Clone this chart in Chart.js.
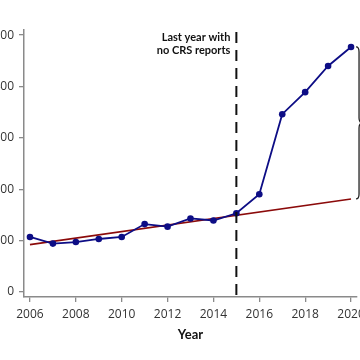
<!DOCTYPE html>
<html>
<head>
<meta charset="utf-8">
<script src="https://cdn.jsdelivr.net/npm/chart.js@4"></script>
<style>
  html, body { margin: 0; padding: 0; background: #fff; overflow: hidden; }
  body { width: 360px; height: 360px; position: relative; }
  #wrap { position: absolute; left: -40px; top: 0; width: 440px; height: 360px; }
</style>
</head>
<body>
<div id="wrap"><canvas id="grafico"></canvas></div>
<script>
const anos = [2006, 2007, 2008, 2009, 2010, 2011, 2012, 2013, 2014, 2015, 2016, 2017, 2018, 2019, 2020];
const valores = [107, 94, 97, 103, 107, 132, 127, 143, 139, 153, 190, 346, 389, 440, 477];
const tendenciaAnos = [2006, 2020];
const tendenciaValores = [92, 181];
const ticksX = [2006, 2008, 2010, 2012, 2014, 2016, 2018, 2020];
const ticksY = [0, 100, 200, 300, 400, 500];
const anoCorte = 2015;
const textoCorte = ["Last year with", "no CRS reports"];

const corAzul = "#0d0d85";
const corVermelha = "#8b0a0a";
const corEixo = "#8a8a8a";

// linha tracejada, texto e chave
const anotacoes = {
  id: "anotacoes",
  afterDatasetsDraw(chart) {
    const { ctx, chartArea, scales: { x, y } } = chart;
    const xc = x.getPixelForValue(anoCorte);

    ctx.save();
    ctx.strokeStyle = "#111";
    ctx.lineWidth = 2;
    ctx.setLineDash([11, 7]);
    ctx.beginPath();
    ctx.moveTo(xc, chartArea.top + 2);
    ctx.lineTo(xc, chartArea.bottom);
    ctx.stroke();
    ctx.setLineDash([]);

    ctx.fillStyle = "#111";
    ctx.font = "bold 11px Lato";
    ctx.textAlign = "right";
    ctx.textBaseline = "middle";
    ctx.fillText(textoCorte[0], xc - 6, 37);
    ctx.fillText(textoCorte[1], xc - 6, 50);

    // chave entre o último ponto e a linha de tendência
    const ultimo = anos.length - 1;
    const yTop = y.getPixelForValue(valores[ultimo]);
    const yBot = y.getPixelForValue(tendenciaValores[1]);
    const xb = x.getPixelForValue(anos[ultimo]) + 5;
    const mid = (yTop + yBot) / 2;
    ctx.strokeStyle = "#222";
    ctx.lineWidth = 1.3;
    ctx.beginPath();
    ctx.moveTo(xb, yTop);
    ctx.quadraticCurveTo(xb + 3, yTop, xb + 3, yTop + 5);
    ctx.lineTo(xb + 3, mid - 5);
    ctx.quadraticCurveTo(xb + 3, mid, xb + 7, mid);
    ctx.quadraticCurveTo(xb + 3, mid, xb + 3, mid + 5);
    ctx.lineTo(xb + 3, yBot - 5);
    ctx.quadraticCurveTo(xb + 3, yBot, xb, yBot);
    ctx.stroke();
    ctx.restore();
  }
};

const ctx = document.getElementById("grafico").getContext("2d");

new Chart(ctx, {
  type: "line",
  data: {
    datasets: [
      {
        data: tendenciaAnos.map((a, i) => ({ x: a, y: tendenciaValores[i] })),
        borderColor: corVermelha,
        borderWidth: 1.6,
        pointRadius: 0,
        fill: false,
        order: 2
      },
      {
        data: anos.map((a, i) => ({ x: a, y: valores[i] })),
        borderColor: corAzul,
        backgroundColor: corAzul,
        borderWidth: 1.8,
        pointRadius: 3.3,
        pointBorderWidth: 0,
        fill: false,
        order: 1
      }
    ]
  },
  options: {
    responsive: true,
    maintainAspectRatio: false,
    animation: false,
    layout: { padding: { top: 30, right: 43, left: 0, bottom: 0 } },
    plugins: { legend: { display: false }, tooltip: { enabled: false } },
    scales: {
      x: {
        type: "linear",
        min: 2005.74,
        max: 2020.26,
        afterBuildTicks: s => { s.ticks = ticksX.map(v => ({ value: v })); },
        afterFit: s => { s.height = 63; },
        grid: { drawOnChartArea: false, drawTicks: true, tickLength: 5, color: corEixo, lineWidth: 1.3 },
        border: { display: true, color: corEixo, width: 1.5 },
        ticks: {
          color: "#333",
          padding: 5,
          maxRotation: 0,
          font: { family: "Open Sans", size: 12 },
          callback: v => String(v)
        },
        title: {
          display: true,
          text: "Year",
          color: "#111",
          font: { family: "Lato", size: 13, weight: "bold" },
          padding: { top: 4, bottom: 17 }
        }
      },
      y: {
        min: -10,
        max: 510,
        afterBuildTicks: s => { s.ticks = ticksY.map(v => ({ value: v })); },
        afterFit: s => { s.width = 64; },
        grid: { drawOnChartArea: false, drawTicks: true, tickLength: 5, color: corEixo, lineWidth: 1.3 },
        border: { display: true, color: corEixo, width: 1.5 },
        ticks: {
          color: "#333",
          padding: 5,
          font: { family: "Open Sans", size: 12 }
        }
      }
    }
  },
  plugins: [anotacoes]
});
</script>
</body>
</html>
